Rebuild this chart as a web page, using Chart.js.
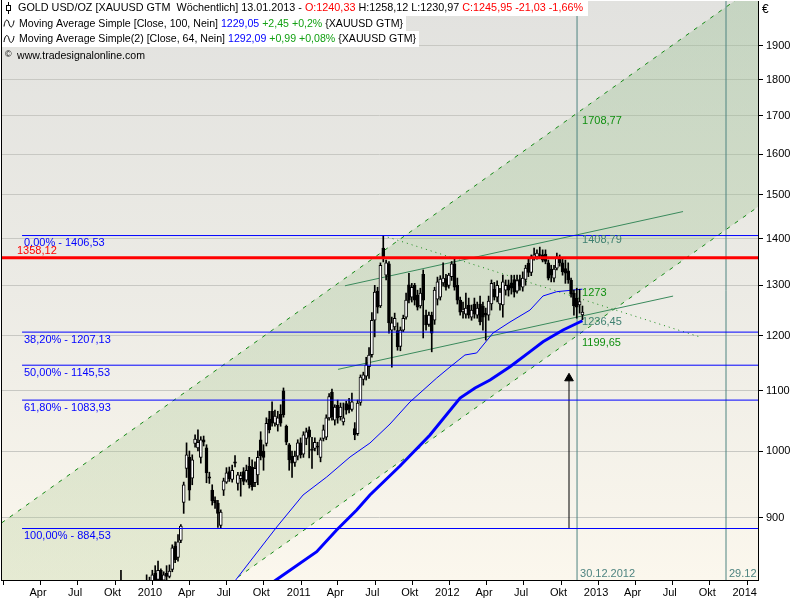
<!DOCTYPE html>
<html>
<head>
<meta charset="utf-8">
<script src="https://cdn.jsdelivr.net/npm/chart.js@4.4.1/dist/chart.umd.min.js"></script>
<style>html,body{margin:0;padding:0;background:#fff}canvas{display:block}</style>
</head>
<body>
<canvas id="chart" width="800" height="600"></canvas>
<script>
// weekly candles, oldest first; last bar is the week of 13.01.2013
const lastWeek = new Date(2013, 0, 7);
const opens = [795,800,803,797,785,790,782,792,800,795,
  803,800,812,808,824,816,828,815,824,820,
  829,860,845,868,922,973,990,958,1012,1005,
  990,1018,1005,960,940,925,921,889,940,952,
  968,956,983,950,957,968,955,976,975,951,
  963,1018,1000,1012,1052,1065,1045,1042,1060,1100,
  1040,1010,992,982,992,1013,995,1020,1034,1003,
  1004,1008,990,1020,1022,1054,1098,1050,1075,1056,
  1047,1078,1076,1068,1036,1028,1080,1120,1126,1143,
  1165,1230,1288,1258,1379,1321,1345,1211,1217,1210,
  1180,1211,1236,1301,1276,1300,1280,1258,1323,1240,
  1222,1240,1230,1272,1276,1305,1314,1300,1318,1345,
  1300,1270,1248,1242,1260,1236,1262,1240,1262,1258,
  1244,1240,1262,1292,1276,1262,1260,1290,1301,1305,
  1312,1288,1312,1296,1312,1346,1327,1358,1360,1365,
  1364,1366,1347,1334,1315,1336,1358,1347,1335,1330,
  1311,1284,1274,1260,1240.33];
const highs = [805,810,828,805,795,798,795,805,808,806,
  809,822,819,828,834,840,830,826,834,835,
  862,866,876,890,952,1013,1000,994,1026,1034,
  1023,1024,1010,967,948,930,925,911,958,974,
  975,978,993,967,967,974,978,990,986,983,
  1000,1031,1010,1054,1065,1081,1067,1065,1076,1105,
  1042,1012,1000,1000,1018,1021,1031,1037,1039,1022,
  1021,1014,1021,1042,1059,1095,1103,1076,1084,1079,
  1079,1082,1087,1096,1046,1084,1128,1133,1160,1178,
  1245,1300,1296,1347,1406.53,1353,1350,1236,1244,1225,
  1217,1240,1284,1325,1304,1304,1290,1294,1332,1250,
  1246,1246,1296,1317,1320,1347,1323,1325,1350,1358.12,
  1315,1276,1266,1284,1274,1260,1274,1266,1278,1266,
  1254,1278,1311,1306,1309,1294,1321,1311,1311,1321,
  1321,1321,1321,1328,1342,1355,1364,1379,1375,1381,
  1375,1375,1353,1342,1342,1368,1364,1358,1353,1347,
  1315,1290,1294,1292,1258.12];
const lows = [785,792,790,780,775,778,775,785,790,788,
  795,790,796,803,809,813,809,809,815,818,
  826,838,840,865,906,959,925,948,1006,1000,
  981,1008,951,950,918,913,886,885,932,950,
  953,952,975,940,931,948,952,943,940,945,
  948,986,970,1008,1029,1040,1040,1032,1040,1055,
  1010,970,959,976,986,989,990,1010,989,973,
  1000,994,983,1016,1018,1050,1050,1042,1045,1050,
  1042,1060,1062,1065,1018,1025,1075,1110,1119,1122,
  1160,1198,1244,1255,1349,1311,1205,1142,1211,1173,
  1172,1208,1232,1264,1266,1260,1250,1254,1196,1211,
  1218,1170,1222,1260,1270,1298,1290,1294,1310,1290,
  1262,1240,1234,1234,1234,1230,1234,1234,1221,1211,
  1192,1230,1250,1270,1266,1250,1236,1280,1278,1282,
  1276,1284,1290,1288,1300,1318,1320,1353,1355,1356,
  1349,1345,1311,1307,1307,1332,1340,1321,1304,1304,
  1276,1240,1234,1244,1230.97];
const closes = [800,806,797,785,790,782,792,800,795,803,
  800,812,806,822,815,828,815,822,820,827,
  858,842,866,888,948,994,940,986,1019,1014,
  1018,1014,966,958,924,921,906,908,954,966,
  957,970,981,963,962,953,970,948,945,973,
  990,992,990,1045,1034,1045,1057,1054,1045,1059,
  1014,986,981,992,1013,994,1026,1031,1022,1001,
  1014,1006,1018,1034,1054,1090,1056,1072,1054,1072,
  1054,1067,1068,1081,1026,1079,1124,1128,1146,1164,
  1230,1286,1256,1342,1360,1347,1225,1225,1234,1179,
  1211,1234,1270,1270,1296,1270,1256,1284,1270,1221,
  1240,1205,1290,1307,1313,1315,1296,1321,1345,1296,
  1270,1246,1250,1254,1240,1250,1242,1254,1227,1236,
  1240,1268,1304,1276,1300,1286,1307,1300,1290,1294,
  1286,1310,1298,1315,1336,1327,1360,1364,1368,1363,
  1353,1350,1315,1321,1334,1360,1347,1328,1325,1311,
  1282,1258,1256,1266.98,1245.95];

// moving averages (decimal year, price)
const ma100Years = [2010.861,2010.955,2011.229,2011.363,2011.498,2011.587,2011.789,2011.991,2012.193,2012.294,2012.395,2012.529,2012.664,2012.751,2012.886,2013.016];
const ma100Vals = [802.6,815.3,852.7,882.4,910.8,932.7,976.6,1025.7,1087.5,1104.9,1119.0,1142.7,1170.4,1188.9,1211.2,1229.05];
const ma64Years = [2010.632,2010.684,2010.825,2010.960,2011.137,2011.296,2011.453,2011.587,2011.722,2011.856,2012.036,2012.125,2012.226,2012.305,2012.415,2012.529,2012.664,2012.751,2012.843,2013.016];
const ma64Vals = [802.6,815.3,851.0,886.6,932.7,959.7,990.6,1012.7,1043.7,1080.7,1122.5,1142.2,1164.2,1167.9,1205.5,1226.6,1250.1,1278.2,1286.9,1292.09];

// drawing tools
const channelYears = [2009.0, 2014.3];
const channelUpper = [876.2, 2130.2];
const channelLower = [616.0, 1497.6];
const shortUpperYears = [2011.419, 2013.693];
const shortUpper = [1299, 1461];
const shortLowerYears = [2011.372, 2013.626];
const shortLower = [1138, 1278];
const trendYears = [2011.675, 2013.807];
const trendVals = [1406.53, 1197.8];
const fibPct = ['0,00%', '38,20%', '50,00%', '61,80%', '100,00%'];
const fibVals = [1406.53, 1207.13, 1145.53, 1083.93, 884.53];
const fibFrom = 2009.247;
const resistance = 1358.12;
const markerDates = [2012.98, 2013.982];
const markerLabels = ['30.12.2012', '29.12'];
const levelLabels = [1708.77, 1408.79, 1273, 1236.45, 1199.65];
const arrowX = 2012.926;
const arrowTop = 1122;

// axes
const X_MIN = 2009.1054, X_MAX = 2014.1972;
const Y_MIN = 815.3, Y_MAX = 2039;
const yTicks = [900,1000,1100,1200,1300,1400,1500,1600,1700,1800,1900];
const tickYears = [2009,2010,2011,2012,2013,2014];
const quarterFrac = [0, 0.2466, 0.4959, 0.7479];
const quarterNames = ['', 'Apr', 'Jul', 'Okt'];

const xTicks = [], xTickLabels = [];
tickYears.forEach(y => quarterFrac.forEach((f, q) => {
  const v = y + f;
  if (v < X_MIN || v > X_MAX) return;
  xTicks.push(v);
  xTickLabels.push(q === 0 ? String(y) : quarterNames[q]);
}));

function decYear(d) {
  const y = d.getFullYear();
  const s = new Date(y, 0, 1), e = new Date(y + 1, 0, 1);
  return y + (d - s) / (e - s);
}
const n = closes.length;
const weekX = closes.map((_, i) => decYear(new Date(lastWeek.getTime() - (n - 1 - i) * 7 * 864e5)));

function fmt(v) {
  return Number.isInteger(v) ? String(v) : v.toFixed(2).replace('.', ',');
}
const pts = (xs, ys) => xs.map((x, i) => ({x, y: ys[i]}));
function lineDs(data, color, width, extra) {
  return Object.assign({type: 'line', data, borderColor: color, borderWidth: width,
    pointRadius: 0, fill: false, tension: 0, clip: 0}, extra || {});
}

const FONT = '11px "Liberation Sans", Arial, sans-serif';
Chart.defaults.font.family = '"Liberation Sans", Arial, sans-serif';
Chart.defaults.font.size = 11;
Chart.defaults.color = '#000';

const bodyFill = opens.map((o, i) => closes[i] >= o ? '#ffffff' : '#000000');

const datasets = [
  lineDs(pts(channelYears, channelUpper), '#148a14', 1, {
    borderDash: [4, 6], order: 20, fill: '+1',
    backgroundColor: c => {
      const a = c.chart.chartArea;
      if (!a) return 'rgba(150,190,140,0.3)';
      const g = c.chart.ctx.createLinearGradient(0, a.top, 0, a.bottom);
      g.addColorStop(0, 'rgba(140,185,135,0.33)');
      g.addColorStop(1, 'rgba(180,205,150,0.3)');
      return g;
    }
  }),
  lineDs(pts(channelYears, channelLower), '#148a14', 1, {borderDash: [4, 6], order: 19}),
  lineDs([{x: markerDates[0], y: Y_MIN}, {x: markerDates[0], y: Y_MAX}], '#4e8480', 1, {order: 18}),
  lineDs([{x: markerDates[1], y: Y_MIN}, {x: markerDates[1], y: Y_MAX}], '#4e8480', 1, {order: 18}),
  lineDs(pts(shortUpperYears, shortUpper), '#3a8a5c', 1, {order: 14}),
  lineDs(pts(shortLowerYears, shortLower), '#3a8a5c', 1, {order: 14}),
  lineDs(pts(trendYears, trendVals), '#1a8a1a', 1, {borderDash: [1, 4], order: 14}),
  lineDs(pts(ma64Years, ma64Vals), '#0000ff', 1, {order: 12}),
  lineDs(pts(ma100Years, ma100Vals), '#0000ff', 3, {order: 12}),
  lineDs([{x: arrowX, y: fibVals[4]}, {x: arrowX, y: arrowTop}], '#000', 1, {
    order: 11, pointRadius: [0, 5], pointStyle: 'triangle',
    pointBackgroundColor: '#000', pointBorderColor: '#000', pointBorderWidth: 1
  }),
  {type: 'bar', data: weekX.map((x, i) => ({x, y: [lows[i], highs[i]]})),
    backgroundColor: '#000', borderWidth: 0, barThickness: 1, grouped: false, order: 4},
  {type: 'bar', data: weekX.map((x, i) => ({x, y: [opens[i], closes[i]]})),
    backgroundColor: bodyFill, borderColor: '#000', borderWidth: 1, borderSkipped: false,
    barThickness: 3, grouped: false, order: 3}
];
fibVals.forEach(v => datasets.push(lineDs([{x: fibFrom, y: v}, {x: X_MAX, y: v}], '#0000ff', 1, {order: 1})));
datasets.push(lineDs([{x: X_MIN, y: resistance}, {x: X_MAX, y: resistance}], '#ff0000', 3, {order: 0}));

function runs(ctx, items, x, yMid, width) {
  ctx.font = FONT;
  ctx.textBaseline = 'middle';
  ctx.textAlign = 'left';
  const ws = items.map(r => ctx.measureText(r[0]).width);
  const total = ws.reduce((s, w) => s + w, 0);
  ctx.save();
  ctx.translate(x, yMid);
  ctx.scale(width / total, 1);
  let cx = 0;
  items.forEach((r, i) => { ctx.fillStyle = r[1]; ctx.fillText(r[0], cx, 0); cx += ws[i]; });
  ctx.restore();
}

function wave(ctx, y) {
  ctx.beginPath();
  ctx.moveTo(4, y + 3);
  ctx.bezierCurveTo(5, y - 5, 8, y - 5, 9, y);
  ctx.bezierCurveTo(10, y + 5, 13, y + 5, 14, y - 3);
  ctx.strokeStyle = '#000';
  ctx.lineWidth = 1;
  ctx.stroke();
}

const overlay = {
  id: 'overlay',
  beforeDraw(chart) {
    const {ctx, chartArea: a} = chart;
    ctx.save();
    ctx.fillStyle = '#fff';
    ctx.fillRect(0, 0, chart.width, chart.height);
    const g = ctx.createLinearGradient(0, a.top, 0, a.bottom);
    g.addColorStop(0, '#e2e2df');
    g.addColorStop(0.5, '#ecebe5');
    g.addColorStop(1, '#fbf7ed');
    ctx.fillStyle = g;
    ctx.fillRect(a.left, a.top, a.right - a.left, a.bottom - a.top);
    ctx.restore();
  },
  afterDatasetsDraw(chart) {
    const {ctx, chartArea: a} = chart;
    const xs = chart.scales.x, ys = chart.scales.y;
    ctx.save();
    ctx.font = FONT;
    ctx.textAlign = 'left';
    // fibonacci labels
    ctx.textBaseline = 'top';
    ctx.fillStyle = '#0000ff';
    fibVals.forEach((v, i) => ctx.fillText(fibPct[i] + ' - ' + fmt(v), 24, ys.getPixelForValue(v) + 2));
    ctx.textBaseline = 'bottom';
    ctx.fillStyle = '#ff0000';
    ctx.fillText(fmt(resistance), 17, ys.getPixelForValue(resistance) - 1);
    // values at the marker line
    const colors = ['#0f8f0f', '#3f8070', '#0f8f0f', '#3f8070', '#0f8f0f'];
    const dy = [8, 5, -6, 5, 7];
    const lx = xs.getPixelForValue(markerDates[0]) + 5;
    ctx.textBaseline = 'middle';
    levelLabels.forEach((v, i) => {
      ctx.fillStyle = colors[i];
      ctx.fillText(fmt(v), lx, ys.getPixelForValue(v) + dy[i]);
    });
    // marker dates
    ctx.fillStyle = '#4e8480';
    ctx.textBaseline = 'bottom';
    markerDates.forEach((d, i) => ctx.fillText(markerLabels[i], xs.getPixelForValue(d) + 3, a.bottom - 1));
    ctx.restore();
  },
  afterDraw(chart) {
    const {ctx, chartArea: a} = chart;
    const last = n - 1;
    const chg = closes[last] - closes[last - 1];
    const pct = chg / closes[last - 1] * 100;
    const sgn = v => (v >= 0 ? '+' : '-') + Math.abs(v).toFixed(2).replace('.', ',');
    ctx.save();
    ctx.fillStyle = '#fff';
    ctx.fillRect(0, 0, 588, 16);
    ctx.fillRect(0, 16, 406, 15);
    ctx.fillRect(0, 31, 419, 16);
    runs(ctx, [
      ['GOLD USD/OZ [XAUUSD GTM  Wöchentlich] 13.01.2013 - ', '#000'],
      ['O:' + fmt(opens[last]), '#ff0000'],
      [' H:' + fmt(highs[last]) + ' L:' + fmt(lows[last]) + ' ', '#000'],
      ['C:' + fmt(closes[last]) + ' ' + sgn(chg) + ' ' + sgn(pct) + '%', '#ff0000']
    ], 18, 8, 565);
    runs(ctx, [
      ['Moving Average Simple [Close, 100, Nein] ', '#000'],
      [fmt(ma100Vals[ma100Vals.length - 1]), '#0000ff'],
      [' +2,45 +0,2%', '#13a013'],
      [' {XAUUSD GTM}', '#000']
    ], 19, 23.5, 384);
    runs(ctx, [
      ['Moving Average Simple(2) [Close, 64, Nein] ', '#000'],
      [fmt(ma64Vals[ma64Vals.length - 1]), '#0000ff'],
      [' +0,99 +0,08%', '#13a013'],
      [' {XAUUSD GTM}', '#000']
    ], 19, 39, 397);
    runs(ctx, [['www.tradesignalonline.com', '#000']], 17, 56, 128);
    // icons
    ctx.strokeStyle = '#000';
    ctx.lineWidth = 1;
    ctx.beginPath(); ctx.moveTo(8.5, 2); ctx.lineTo(8.5, 14); ctx.stroke();
    ctx.fillStyle = '#fff';
    ctx.fillRect(6.5, 5.5, 4, 5);
    ctx.strokeRect(6.5, 5.5, 4, 5);
    wave(ctx, 23.5);
    wave(ctx, 39);
    ctx.fillStyle = '#000';
    ctx.font = '9px "Liberation Sans", Arial, sans-serif';
    ctx.textBaseline = 'middle';
    ctx.fillText('©', 5, 55);
    // euro sign above the price axis
    ctx.font = '12px "Liberation Sans", Arial, sans-serif';
    ctx.fillText('€', a.right + 4, 10);
    // left frame
    ctx.fillRect(1, 0, 1, a.bottom);
    ctx.restore();
  }
};

new Chart(document.getElementById('chart'), {
  type: 'line',
  data: {datasets},
  options: {
    responsive: false,
    animation: false,
    events: [],
    layout: {autoPadding: false, padding: {left: 1, top: 1, right: 0, bottom: 0}},
    plugins: {legend: {display: false}, tooltip: {enabled: false}},
    scales: {
      x: {
        type: 'linear', position: 'bottom', offset: false,
        min: X_MIN, max: X_MAX,
        afterBuildTicks: s => { s.ticks = xTicks.map(v => ({value: v})); },
        afterFit: s => { s.height = 20; s.paddingLeft = 0; s.paddingRight = 0; },
        ticks: {
          autoSkip: false, maxRotation: 0, labelOffset: 16, padding: 1,
          font: {size: 11}, color: '#000',
          callback: (v) => xTickLabels[xTicks.indexOf(v)] || ''
        },
        grid: {drawOnChartArea: false, drawTicks: true, tickLength: 5, tickColor: '#000'},
        border: {display: true, color: '#000', width: 1}
      },
      y: {
        type: 'logarithmic', position: 'right',
        min: Y_MIN, max: Y_MAX,
        afterBuildTicks: s => { s.ticks = yTicks.map(v => ({value: v})); },
        afterFit: s => { s.width = 42; s.paddingTop = 0; s.paddingBottom = 0; },
        ticks: {padding: 3, font: {size: 11}, color: '#000', callback: v => String(v)},
        grid: {color: '#c8c8c3', lineWidth: 1, tickLength: 5, tickColor: '#000'},
        border: {display: true, color: '#000', width: 1}
      }
    }
  },
  plugins: [overlay]
});
</script>
</body>
</html>
